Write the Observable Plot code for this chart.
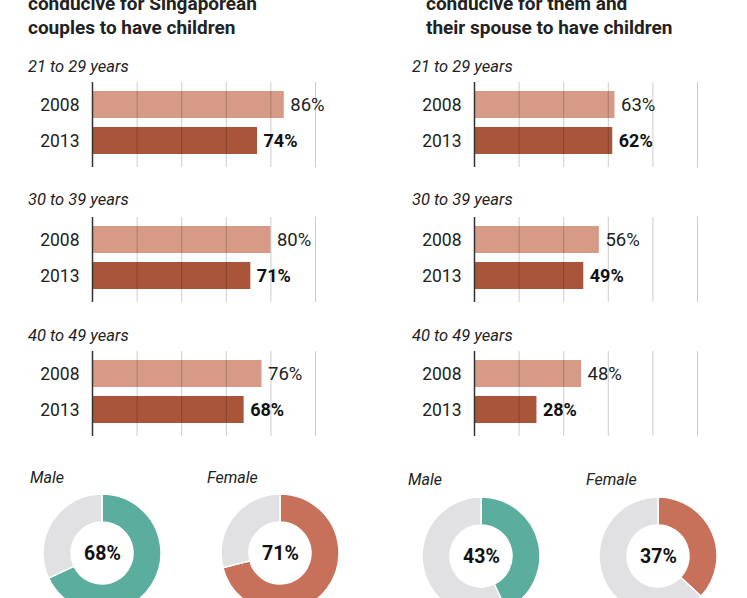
<!DOCTYPE html>
<html><head><meta charset="utf-8">
<script src="https://cdn.jsdelivr.net/npm/d3@7"></script>
<script src="https://cdn.jsdelivr.net/npm/@observablehq/plot@0.6"></script>
<style>
html,body{margin:0;padding:0;background:#fff;}
body{width:747px;height:598px;overflow:hidden;position:relative;font-family:Roboto,sans-serif;color:#222;}
.abs{position:absolute;white-space:nowrap;line-height:1;}
svg{overflow:visible;}
</style></head><body>
<script>
// ---- data ----
const ageGroups = ["21 to 29 years", "30 to 39 years", "40 to 49 years"];
const years = ["2008", "2013"];
const leftValues2008 = [86, 80, 76];
const leftValues2013 = [74, 71, 68];
const rightValues2008 = [63, 56, 48];
const rightValues2013 = [62, 49, 28];
const genders = ["Male", "Female"];
const leftGender = [68, 71];
const rightGender = [43, 37];
const gridTicks = [20, 40, 60, 80, 100];
const leftTitle = ["conducive for Singaporean", "couples to have children"];
const rightTitle = ["conducive for them and", "their spouse to have children"];

// ---- styles ----
const barColors = ["#d69a87", "#a9553a"];
const genderColors = ["#5bae9d", "#c7715b"];
const restColor = "#e1e1e3";

function label(text, x, baseline, size, extra = {}) {
  const d = document.createElement("div");
  d.className = "abs";
  d.textContent = text;
  d.style.left = x + "px";
  d.style.top = (baseline - 0.84 * size) + "px";
  d.style.fontSize = size + "px";
  Object.assign(d.style, extra);
  document.body.appendChild(d);
}
function place(node, x, y) {
  node.style.position = "absolute";
  node.style.left = x + "px";
  node.style.top = y + "px";
  document.body.appendChild(node);
}

function barPlot(v08, v13) {
  const data = [{year: years[0], value: v08}, {year: years[1], value: v13}];
  return Plot.plot({
    width: 355, height: 85,
    marginLeft: 92, marginRight: 40, marginTop: 8, marginBottom: 12,
    x: {domain: [0, 100], axis: null},
    y: {domain: years, paddingInner: 0.243, paddingOuter: 0, axis: null},
    color: {domain: years, range: barColors},
    style: {fontFamily: "Roboto, sans-serif", color: "#222", background: "transparent"},
    marks: [
      Plot.barX(data, {x: "value", y: "year", fill: "year"}),
      Plot.ruleX(gridTicks, {stroke: "#000", strokeOpacity: 0.2, strokeWidth: 1, insetTop: -8, insetBottom: -12}),
      Plot.ruleX([0], {stroke: "#333", strokeWidth: 1.5, insetTop: -8, insetBottom: -12}),
      Plot.text(data, {x: d => 0, y: "year", text: "year", dx: -13, textAnchor: "end", fontSize: 17.5, fill: "#222"}),
      Plot.text(data.filter(d => d.year === "2008"), {x: "value", y: "year", text: d => d.value + "%", dx: 6, textAnchor: "start", fontSize: 18.5, fill: "#222"}),
      Plot.text(data.filter(d => d.year === "2013"), {x: "value", y: "year", text: d => d.value + "%", dx: 6, textAnchor: "start", fontSize: 18, fontWeight: "bold", fill: "#111"})
    ]
  });
}

function donut(value, color) {
  const data = [{k: "yes", v: value}, {k: "no", v: 100 - value}];
  return Plot.plot({
    width: 130, height: 130, margin: 0,
    style: {fontFamily: "Roboto, sans-serif", background: "transparent"},
    marks: [
      (index, scales, values, dims) => {
        const g = d3.create("svg:g").attr("transform", `translate(${dims.width / 2},${dims.height / 2})`);
        const arcs = d3.pie().sort(null).value(d => d.v)(data);
        g.selectAll("path").data(arcs).join("path")
          .attr("d", d3.arc().innerRadius(31).outerRadius(59))
          .attr("fill", d => d.data.k === "yes" ? color : restColor)
          .attr("stroke", "#fff").attr("stroke-width", 1.5);
        return g.node();
      },
      Plot.text([value + "%"], {text: d => d, frameAnchor: "middle", fontSize: 19.5, fontWeight: "bold", fill: "#111"})
    ]
  });
}

// ---- titles ----
label(leftTitle[0], 28, 10, 19, {fontWeight: "bold"});
label(leftTitle[1], 28, 34, 19, {fontWeight: "bold"});
label(rightTitle[0], 426, 10, 19, {fontWeight: "bold"});
label(rightTitle[1], 426, 34, 19, {fontWeight: "bold"});

// ---- bar sections ----
const ageBaselines = [73, 206, 342];
const sectionTops = [82, 217, 351];
ageGroups.forEach((a, i) => {
  label(a, 28, ageBaselines[i], 16.5, {fontStyle: "italic"});
  label(a, 412, ageBaselines[i], 16.5, {fontStyle: "italic"});
  place(barPlot(leftValues2008[i], leftValues2013[i]), 0, sectionTops[i]);
  place(barPlot(rightValues2008[i], rightValues2013[i]), 382, sectionTops[i]);
});

// ---- donuts ----
label(genders[0], 30, 483, 16, {fontStyle: "italic"});
label(genders[1], 207, 483, 16, {fontStyle: "italic"});
label(genders[0], 408, 485, 16, {fontStyle: "italic"});
label(genders[1], 586, 485, 16, {fontStyle: "italic"});
place(donut(leftGender[0], genderColors[0]), 101.5 - 65, 553 - 65);
place(donut(leftGender[1], genderColors[1]), 280 - 65, 553 - 65);
place(donut(rightGender[0], genderColors[0]), 480.5 - 65, 556 - 65);
place(donut(rightGender[1], genderColors[1]), 658 - 65, 556 - 65);
</script>
</body></html>
